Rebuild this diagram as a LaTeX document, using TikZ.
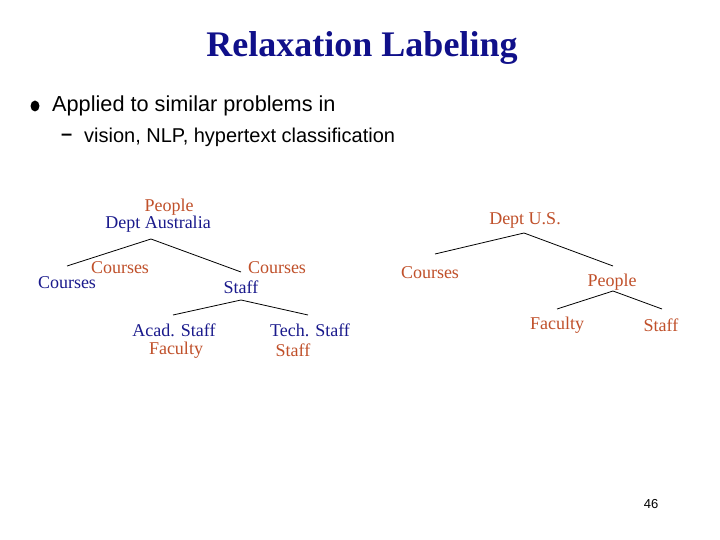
\documentclass[tikz,border=0pt]{standalone}
\usepackage{fontspec}
\setmainfont{Liberation Serif}
\newfontfamily\arial{Liberation Sans}
\definecolor{navy}{HTML}{1A1A8C}
\definecolor{rust}{HTML}{C0502A}
\definecolor{ttl}{HTML}{10108A}
\begin{document}
\begin{tikzpicture}[x=1pt,y=-1pt,
  bl/.style={text=navy,font=\fontsize{18}{20}\selectfont,inner sep=0pt},
  rd/.style={text=rust,font=\fontsize{18}{20}\selectfont,inner sep=0pt},
  ln/.style={draw=black,line width=0.8pt}]
\useasboundingbox[fill=white] (0,0) rectangle (720,540);
\node[text=ttl,font=\fontsize{36}{40}\selectfont\bfseries] (title) at (362,48) {Relaxation Labeling};
\fill (35,106) ellipse (4.5 and 5.5);
\node[anchor=west,inner sep=0pt,font=\arial\fontsize{21.7}{24}\selectfont] (b1) at (52,106) {Applied to similar problems in};
\node[anchor=west,inner sep=0pt,font=\arial\fontsize{20}{22}\selectfont] (d1) at (61,137) {\textbf{\textendash}};
\node[anchor=west,inner sep=0pt,font=\arial\fontsize{20}{22}\selectfont] (b2) at (84,137) {vision, NLP, hypertext classification};
% left tree
\node[rd] (p1) at (169,207) {People};
\node[bl] (da) at (158,224) {Dept Australia};
\node[rd] (c1) at (120,268) {Courses};
\node[bl] (c2) at (67,283) {Courses};
\node[rd] (c3) at (277,268) {Courses};
\node[bl] (s1) at (241,287) {Staff};
\node[bl] (as) at (174,330) {Acad. Staff};
\node[rd] (fa) at (176,350) {Faculty};
\node[bl] (ts) at (310,330) {Tech. Staff};
\node[rd] (st) at (293,350) {Staff};
\coordinate (a1) at (151,239); \coordinate (a1l) at (67,266); \coordinate (a1r) at (241,272);
\coordinate (a2) at (241,300); \coordinate (a2l) at (173,315); \coordinate (a2r) at (308,315);
\draw[ln] (a1l) -- (a1) -- (a1r);
\draw[ln] (a2l) -- (a2) -- (a2r);
% right tree
\node[rd] (du) at (525,220) {Dept U.S.};
\node[rd] (cu) at (430,273) {Courses};
\node[rd] (pu) at (612,282) {People};
\node[rd] (fu) at (557,325) {Faculty};
\node[rd] (su) at (661,325) {Staff};
\coordinate (r1) at (524,233); \coordinate (r1l) at (435,254); \coordinate (r1r) at (613,266);
\coordinate (r2) at (613,291); \coordinate (r2l) at (557,309); \coordinate (r2r) at (662,309);
\draw[ln] (r1l) -- (r1) -- (r1r);
\draw[ln] (r2l) -- (r2) -- (r2r);
\node[font=\arial\fontsize{13}{15}\selectfont] (pg) at (651,504) {46};
\end{tikzpicture}
\end{document}
